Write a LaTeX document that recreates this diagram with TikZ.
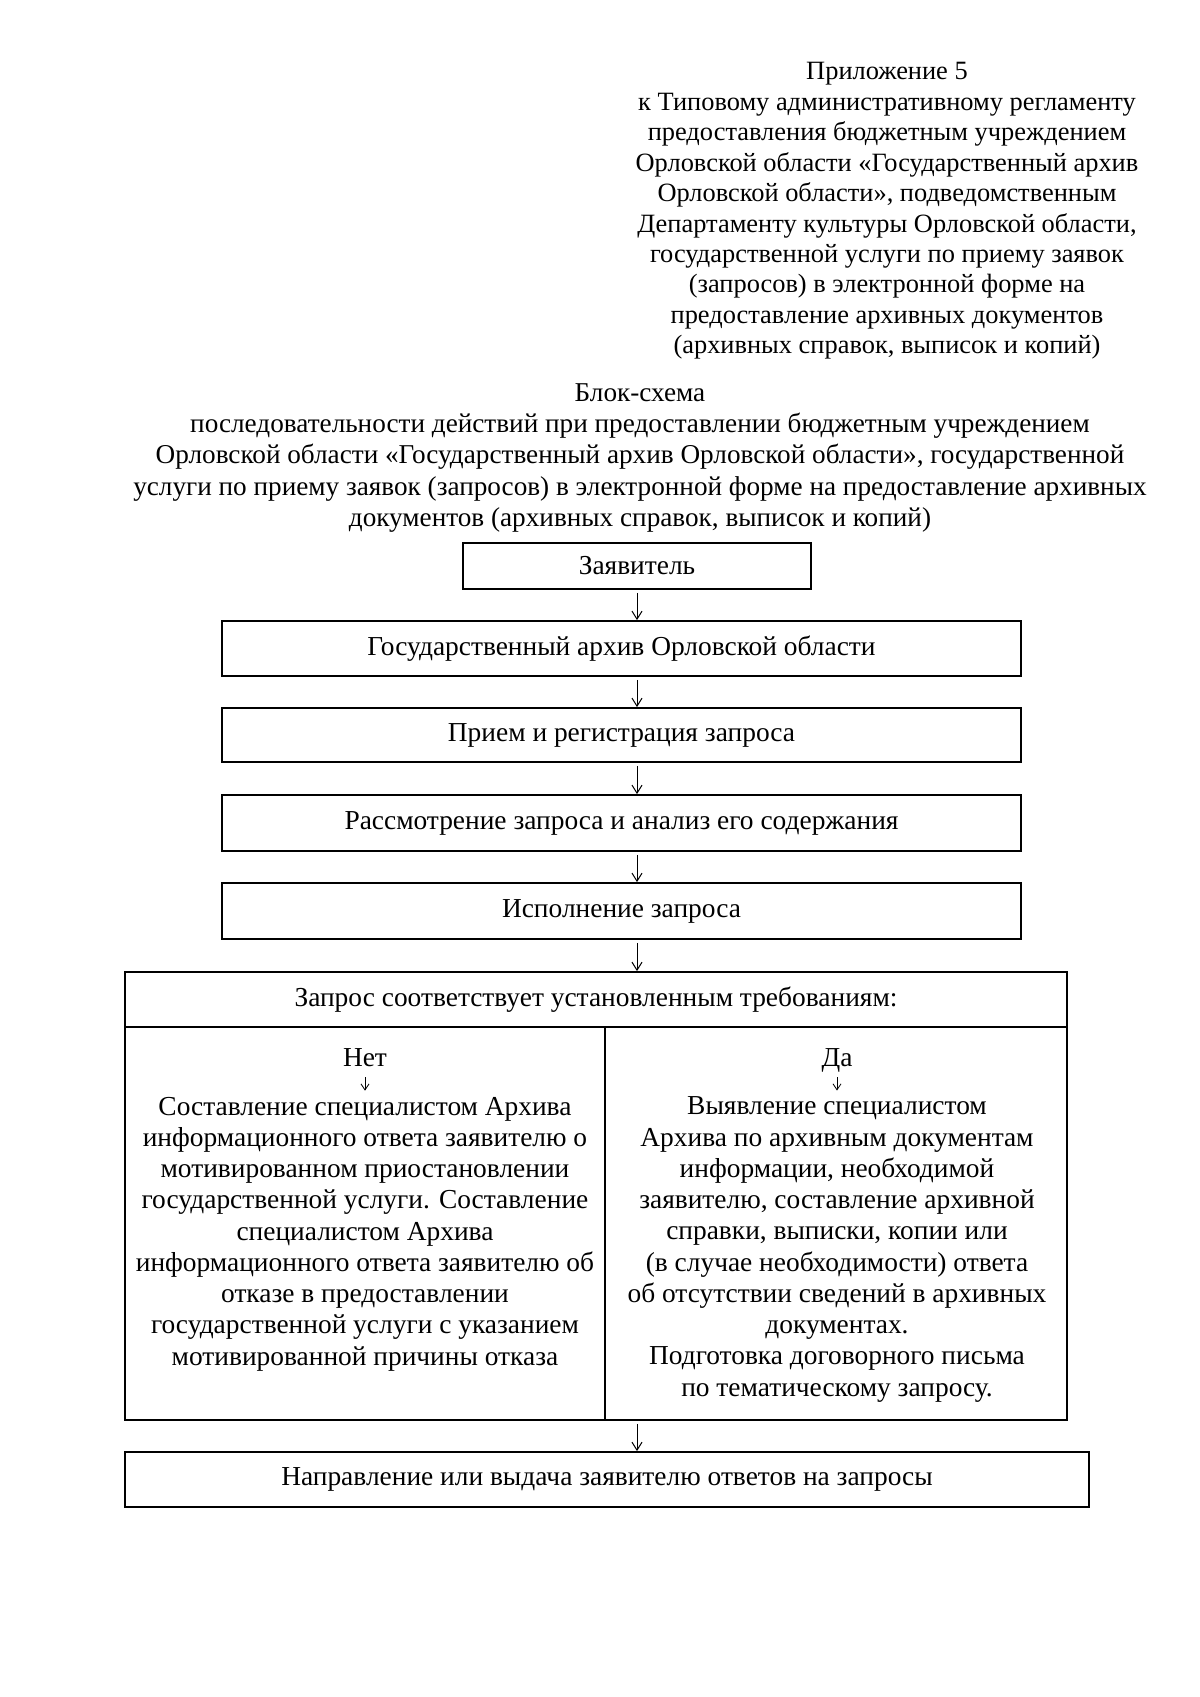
\documentclass[tikz,border=0pt]{standalone}
\usepackage{fontspec}
\setmainfont{Liberation Serif}
\usetikzlibrary{
    arrows.meta,
    positioning
}
\newdimen\pxu \pxu=0.4961pt
\tikzset{
    >={Straight Barb[length=4pt,width=5pt]},
    box/.style={draw, line width=0.9pt, inner sep=0pt, font=\fontsize{13.6}{15.5}\selectfont},
    txt/.style={inner sep=0pt, align=center, font=\fontsize{13.6}{15.5}\selectfont},
    flow/.style={->, line width=0.5pt, shorten <=3\pxu},
    subflow/.style={->, line width=0.4pt, >={Straight Barb[length=3pt,width=4pt]}, shorten <=11\pxu, shorten >=6\pxu},
}

\begin{document}
\begin{tikzpicture}[x=0.4961pt, y=-0.4961pt]
       \useasboundingbox (0,0) rectangle (1200,1697);
       % header
       \node[txt, font=\fontsize{13.1}{15.1}\selectfont] (prilozh) at (887,211) {Приложение 5\\
           к Типовому административному регламенту\\
           предоставления бюджетным учреждением\\
           Орловской области «Государственный архив\\
           Орловской области», подведомственным\\
           Департаменту культуры Орловской области,\\
           государственной услуги по приему заявок\\
           (запросов) в электронной форме на\\
           предоставление архивных документов\\
           (архивных справок, выписок и копий)};
       \node[txt, font=\fontsize{13.5}{15.4}\selectfont] (title) at (640,458) {Блок-схема\\
           последовательности действий при предоставлении бюджетным учреждением\\
           Орловской области «Государственный архив Орловской области», государственной\\
           услуги по приему заявок (запросов) в электронной форме на предоставление архивных\\
           документов (архивных справок, выписок и копий)};
       % chain of steps
       \node[box, minimum width=348\pxu, minimum height=46\pxu] (zayav) at (637,566) {Заявитель};
       \node[box, minimum width=799\pxu, minimum height=55\pxu] (arhiv) at (621.5,648.5) {Государственный архив Орловской области};
       \node[box, minimum width=799\pxu, minimum height=54\pxu] (priem) at (621.5,735) {Прием и регистрация запроса};
       \node[box, minimum width=799\pxu, minimum height=56\pxu] (rassm) at (621.5,823) {Рассмотрение запроса и анализ его содержания};
       \node[box, minimum width=799\pxu, minimum height=56\pxu] (ispoln) at (621.5,911) {Исполнение запроса};
       % decision table
       \node[box, minimum width=942\pxu, minimum height=55\pxu] (usl) at (596,999.5) {Запрос соответствует установленным требованиям:};
       \node[box, minimum width=480\pxu, minimum height=393\pxu] (netcell) at (365,1223.5) {};
       \node[box, minimum width=462\pxu, minimum height=393\pxu] (dacell) at (836,1223.5) {};
       \node[txt, anchor=base] (net) at (365,1066) {Нет};
       \node[txt] (nettxt) at (365,1234) {Составление специалистом Архива\\
           информационного ответа заявителю о\\
           мотивированном приостановлении\\
           государственной услуги. Составление\\
           специалистом Архива\\
           информационного ответа заявителю об\\
           отказе в предоставлении\\
           государственной услуги с указанием\\
           мотивированной причины отказа};
       \node[txt, anchor=base] (da) at (837,1066) {Да};
       \node[txt] (datxt) at (837,1249.5) {Выявление специалистом\\
           Архива по архивным документам\\
           информации, необходимой\\
           заявителю, составление архивной\\
           справки, выписки, копии или\\
           (в случае необходимости) ответа\\
           об отсутствии сведений в архивных\\
           документах.\\
           Подготовка договорного письма\\
           по тематическому запросу.};
       \node[box, minimum width=964\pxu, minimum height=55\pxu] (vydacha) at (607,1479.5) {Направление или выдача заявителю ответов на запросы};
        \path[flow]
        (zayav.south) edge (zayav.south |- arhiv.north)
        (zayav.south |- arhiv.south) edge (zayav.south |- priem.north)
        (zayav.south |- priem.south) edge (zayav.south |- rassm.north)
        (zayav.south |- rassm.south) edge (zayav.south |- ispoln.north)
        (zayav.south |- ispoln.south) edge (zayav.south |- usl.north)
        (zayav.south |- netcell.south) edge (zayav.south |- vydacha.north);
        \path[subflow]
        (net.base) edge (net.base |- nettxt.north)
        (da.base) edge (da.base |- datxt.north);
      \end{tikzpicture}
\end{document}
